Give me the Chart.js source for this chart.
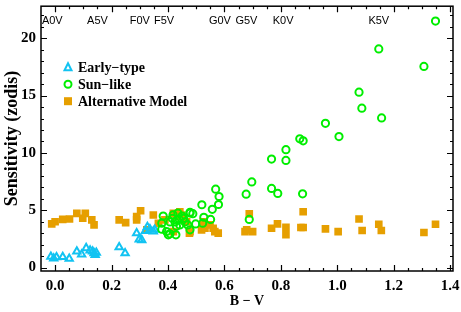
<!DOCTYPE html>
<html>
<head>
<meta charset="utf-8">
<script src="https://cdn.jsdelivr.net/npm/chart.js@4/dist/chart.umd.min.js"></script>
<style>
html,body{margin:0;padding:0;background:#fff;}
#wrap{width:461px;height:312px;}
</style>
</head>
<body>
<div id="wrap"><canvas id="c" width="461" height="312"></canvas></div>
<script>
// ---- data ----
const earlyBV   = [-0.015,-0.005,0.005,0.027,0.05,0.077,0.094,0.11,0.124,0.133,0.138,0.142,0.146,0.227,0.248,0.289,0.298,0.307,0.32,0.327,0.336,0.348,0.353];
const earlySens = [0.95,0.8,0.9,0.93,0.78,1.4,1.15,1.7,1.5,1.4,1.25,1.1,1.3,1.78,1.25,3.0,2.45,2.4,3.2,3.55,3.35,3.15,3.3];

const sunBV   = [0.378,0.378,0.383,0.395,0.401,0.407,0.407,0.418,0.425,0.428,0.435,0.442,0.45,0.46,0.47,0.478,0.478,0.478,0.488,0.498,0.52,0.523,0.527,0.551,0.557,0.579,0.581,0.569,0.677,0.688,0.697,0.767,0.767,0.789,0.818,0.818,0.867,0.879,0.877,0.958,1.006,1.077,1.087,1.147,1.157,1.307,1.348,0.44,0.455,0.415,0.43];
const sunSens = [3.35,3.87,4.5,3.14,2.86,2.94,3.98,4.6,3.98,2.86,4.76,3.72,4.5,3.98,3.72,3.29,4.76,4.82,4.7,3.81,5.48,3.87,4.39,4.2,5.08,5.5,6.2,6.84,6.4,4.2,7.47,6.9,9.46,6.47,10.28,9.35,11.23,11.06,6.43,12.58,11.43,15.3,13.9,19.07,13.05,17.55,21.5,4.2,4.3,4.3,3.6];

const altBV   = [-0.012,0.0,0.027,0.051,0.077,0.098,0.107,0.13,0.138,0.227,0.25,0.289,0.289,0.303,0.325,0.348,0.366,0.389,0.419,0.419,0.43,0.442,0.448,0.466,0.476,0.478,0.519,0.525,0.531,0.549,0.56,0.566,0.578,0.673,0.679,0.688,0.70,0.767,0.788,0.818,0.818,0.871,0.879,0.879,0.958,1.003,1.077,1.088,1.147,1.156,1.307,1.348];
const altSens = [3.81,4.0,4.2,4.24,4.73,4.3,4.73,4.16,3.72,4.16,3.92,4.44,4.16,4.96,3.29,4.59,3.87,4.16,3.14,4.73,4.44,4.87,4.59,4.0,3.0,3.14,3.29,4.0,3.43,3.72,3.43,3.14,3.0,3.14,3.29,4.68,3.14,3.43,3.81,3.52,2.86,3.49,3.49,4.87,3.38,3.14,4.24,3.23,3.78,3.23,3.06,3.78];

const specTypes = ['A0V','A5V','F0V','F5V','G0V','G5V','K0V','K5V'];
const specBV    = [-0.01,0.15,0.30,0.386,0.584,0.678,0.808,1.147];

const xTicks = [0.0,0.2,0.4,0.6,0.8,1.0,1.2,1.4];
const yTicks = [0,5,10,15,20];
const seriesNames = ['Early\u2212type','Sun\u2212like','Alternative Model'];

const COL_EARLY = '#12c3f2';
const COL_SUN = '#00ee00';
const COL_ALT = '#e69f00';
const SERIF = "'Liberation Serif', 'Times New Roman', serif";

function pts(xs, ys){ return xs.map((x,i)=>({x:x,y:ys[i]})); }

const frame = {
  id:'frame',
  afterDatasetsDraw(chart){
    const ctx = chart.ctx, a = chart.chartArea;
    const xs = chart.scales.x, ys = chart.scales.y;
    ctx.save();
    ctx.strokeStyle = '#000';
    ctx.lineWidth = 1.2;
    for (let k = 0; k <= 28; k++) {
      const v = k*0.05;
      const px = Math.round(xs.getPixelForValue(v))+0.5;
      const major = (k % 4 === 0);
      const L = major ? 6 : 3;
      ctx.beginPath();
      ctx.moveTo(px, a.bottom); ctx.lineTo(px, a.bottom - L);
      ctx.moveTo(px, a.top); ctx.lineTo(px, a.top + L);
      ctx.stroke();
    }
    for (let v = 0; v <= 22; v++) {
      const py = Math.round(ys.getPixelForValue(v))+0.5;
      const L = (v % 5 === 0) ? 6 : 3;
      ctx.beginPath();
      ctx.moveTo(a.left, py); ctx.lineTo(a.left + L, py);
      ctx.moveTo(a.right, py); ctx.lineTo(a.right - L, py);
      ctx.stroke();
    }
    ctx.lineWidth = 1.5;
    ctx.strokeRect(a.left, a.top, a.right - a.left, a.bottom - a.top);

    ctx.fillStyle = '#000';
    ctx.font = "11px 'Liberation Sans', Arial, sans-serif";
    ctx.textAlign = 'center';
    ctx.textBaseline = 'middle';
    specTypes.forEach((t,i)=>{
      ctx.fillText(t, xs.getPixelForValue(specBV[i]), a.top + 15);
    });

    const lx = a.left + 27, ly0 = a.top + 61, dy = 17;
    ctx.font = "bold 14px " + SERIF;
    ctx.textAlign = 'left';
    ctx.lineWidth = 2;
    ctx.strokeStyle = COL_EARLY;
    ctx.beginPath();
    ctx.moveTo(lx, ly0 - 4); ctx.lineTo(lx + 3.5, ly0 + 3); ctx.lineTo(lx - 3.5, ly0 + 3); ctx.closePath();
    ctx.stroke();
    ctx.strokeStyle = COL_SUN;
    ctx.beginPath(); ctx.arc(lx, ly0 + dy, 3.5, 0, Math.PI*2); ctx.stroke();
    ctx.fillStyle = COL_ALT;
    ctx.fillRect(lx - 4, ly0 + 2*dy - 4, 8, 8);
    ctx.fillStyle = '#000';
    seriesNames.forEach((n,i)=>{
      ctx.fillText(n, lx + 10, ly0 + i*dy + 1);
    });
    ctx.restore();
  }
};

new Chart(document.getElementById('c'), {
  type: 'scatter',
  data: {
    datasets: [
      { label: seriesNames[1], data: pts(sunBV, sunSens), pointStyle: 'circle', pointRadius: 3.6,
        borderColor: COL_SUN, backgroundColor: 'rgba(0,0,0,0)', borderWidth: 2, order: 0 },
      { label: seriesNames[0], data: pts(earlyBV, earlySens), pointStyle: 'triangle', pointRadius: 4.2,
        borderColor: COL_EARLY, backgroundColor: 'rgba(0,0,0,0)', borderWidth: 2, order: 1 },
      { label: seriesNames[2], data: pts(altBV, altSens), pointStyle: 'rect', pointRadius: 5.4,
        borderColor: COL_ALT, backgroundColor: COL_ALT, borderWidth: 0, order: 2 }
    ]
  },
  options: {
    responsive: false,
    devicePixelRatio: 1,
    animation: false,
    events: [],
    layout: { padding: { left: 0, right: 8, top: 3, bottom: 0 } },
    plugins: { legend: { display: false }, tooltip: { enabled: false } },
    scales: {
      x: {
        type: 'linear', min: -0.05, max: 1.41,
        grid: { display: false, drawTicks: false },
        border: { display: false },
        afterBuildTicks: s => { s.ticks = xTicks.map(v=>({value:v})); },
        afterFit: s => { s.height = 41; s.paddingLeft = 0; s.paddingRight = 0; },
        ticks: { color: '#000', padding: 6, maxRotation: 0, autoSkip: false,
          font: { family: SERIF, weight: 'bold', size: 15 },
          callback: v => Number(v).toFixed(1) },
        title: { display: true, text: 'B \u2212 V', color: '#000', padding: { top: 0, bottom: 2 },
          font: { family: SERIF, weight: 'bold', size: 14 } }
      },
      y: {
        type: 'linear', min: -0.3, max: 22.8,
        grid: { display: false, drawTicks: false },
        border: { display: false },
        afterBuildTicks: s => { s.ticks = yTicks.map(v=>({value:v})); },
        afterFit: s => { s.width = 41; s.paddingTop = 0; s.paddingBottom = 0; },
        ticks: { color: '#000', padding: 5, autoSkip: false,
          font: { family: SERIF, weight: 'bold', size: 15 } },
        title: { display: true, text: 'Sensitivity (zodis)', color: '#000', padding: { top: 2, bottom: 0 },
          font: { family: SERIF, weight: 'bold', size: 18 } }
      }
    }
  },
  plugins: [frame]
});
</script>
</body>
</html>
